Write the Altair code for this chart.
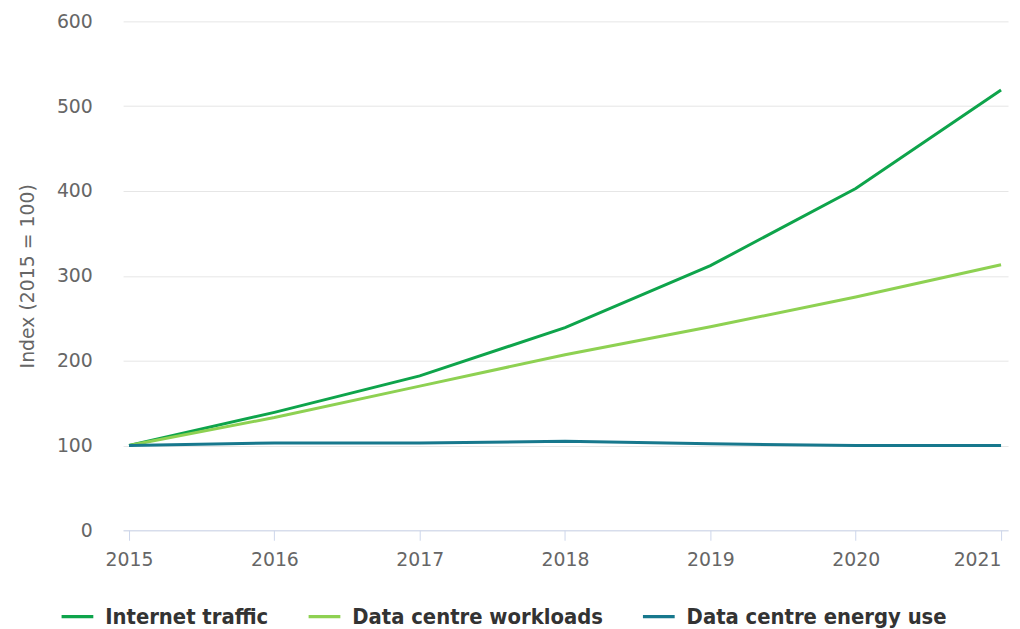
import altair as alt
import pandas as pd

years = [2015, 2016, 2017, 2018, 2019, 2020, 2021]
internet_traffic = [100, 139, 182, 239, 312, 403, 519]
dc_workloads = [100, 133, 170, 207, 240, 275, 313]
dc_energy = [100, 103, 103, 105, 102, 100, 100]

series_names = ["Internet traffic", "Data centre workloads", "Data centre energy use"]
series_colors = ["#0ea44b", "#8ed152", "#17788d"]

rows = []
for name, vals in zip(series_names, [internet_traffic, dc_workloads, dc_energy]):
    for y, v in zip(years, vals):
        rows.append({"year": y, "value": v, "series": name})
df = pd.DataFrame(rows)

font = "DejaVu Sans"

chart = (
    alt.Chart(df)
    .mark_line(strokeWidth=3)
    .encode(
        x=alt.X(
            "year:Q",
            scale=alt.Scale(domain=[2014.959, 2021.048], nice=False, zero=False),
            axis=alt.Axis(
                values=years,
                format="d",
                title=None,
                grid=False,
                domainColor="#ccd6eb",
                tickColor="#ccd6eb",
                tickSize=10,
                labelPadding=10,
                labelFont=font,
                labelFontSize=19,
                labelColor="#666666",
                labelAlign=alt.expr("datum.value == 2021 ? 'right' : 'center'"),
            ),
        ),
        y=alt.Y(
            "value:Q",
            scale=alt.Scale(domain=[0, 600], nice=False),
            axis=alt.Axis(
                values=[0, 100, 200, 300, 400, 500, 600],
                title="Index (2015 = 100)",
                titleFont=font,
                titleFontSize=19,
                titleFontWeight="normal",
                titleColor="#666666",
                titlePadding=19,
                domain=False,
                ticks=False,
                gridColor="#e6e6e6",
                labelPadding=31,
                labelFont=font,
                labelFontSize=19,
                labelColor="#666666",
            ),
        ),
        color=alt.Color(
            "series:N",
            scale=alt.Scale(domain=series_names, range=series_colors),
            sort=series_names,
            legend=alt.Legend(
                title=None,
                orient="none",
                direction="horizontal",
                legendX=-64,
                legendY=582,
                symbolType="stroke",
                symbolSize=1024,
                symbolStrokeWidth=3.5,
                labelFont="DejaVu Sans Condensed",
                labelFontSize=22,
                labelFontWeight="bold",
                labelColor="#333333",
                labelOffset=10,
                columnPadding=33,
                labelLimit=400,
            ),
        ),
    )
    .properties(
        width=892,
        height=513,
        padding={"left": 116, "top": 11, "right": 4, "bottom": 97},
        autosize=alt.AutoSizeParams(type="none"),
        background="white",
    )
    .configure_view(strokeWidth=0, stroke="transparent")
)

chart.save("out.html", embed_options={"renderer": "svg", "actions": False})
